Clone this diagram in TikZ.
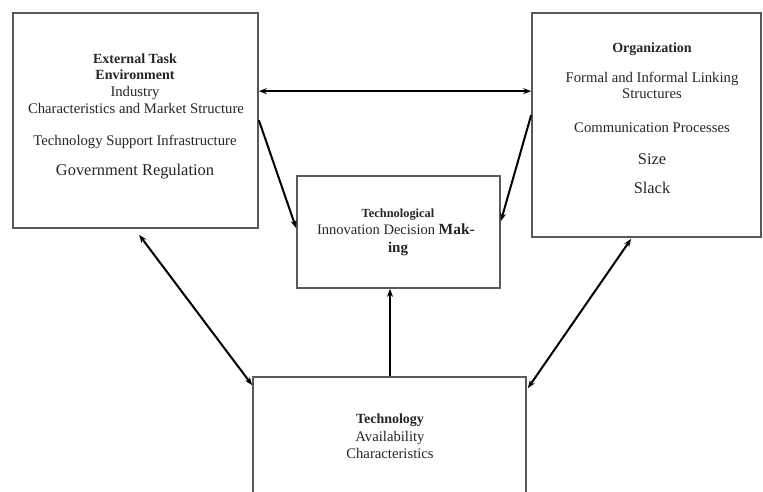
\documentclass[tikz,border=0pt]{standalone}
\usepackage{fontspec}
\setmainfont{Liberation Serif}
\usetikzlibrary{arrows.meta,calc}
\begin{document}
\begin{tikzpicture}[x=1pt,y=-1pt,
  box/.style={draw=black!65,line width=1.7pt,minimum width=#1,inner sep=0pt},
  lbl/.style={anchor=base,inner sep=0pt,text=black!85,font=\fontsize{14.7}{17}\selectfont},
  blbl/.style={lbl,font=\fontsize{14}{17}\selectfont\bfseries},
  big/.style={lbl,font=\fontsize{16.4}{19}\selectfont},
  conn/.style={line width=2pt,-{Stealth[length=8pt,width=6pt]}},
  dconn/.style={line width=2pt,{Stealth[length=8pt,width=6pt]}-{Stealth[length=8pt,width=6pt]}}]
\useasboundingbox (0,0) rectangle (763,491);
\clip (0,0) rectangle (763,491);
\fill[white] (0,0) rectangle (763,491);
% boxes
\node[box=245pt,minimum height=215pt] (L) at (135.5,120.5) {};
\node[box=229pt,minimum height=224pt] (R) at (646.5,125) {};
\node[box=203pt,minimum height=112pt] (M) at (398.5,232) {};
\node[box=273pt,minimum height=128pt] (T) at (389.5,441) {};
% left text
\node[blbl] (l1) at (135,63) {External Task};
\node[blbl] (l2) at (135,79) {Environment};
\node[lbl] (l3) at (135,96) {Industry};
\node[lbl] (l4) at (136,113) {Characteristics and Market Structure};
\node[lbl] (l5) at (135,145) {Technology Support Infrastructure};
\node[big] (l6) at (135,175) {Government Regulation};
% right text
\node[blbl] (r1) at (652,52) {Organization};
\node[lbl] (r2) at (652,82) {Formal and Informal Linking};
\node[lbl] (r3) at (652,98) {Structures};
\node[lbl] (r4) at (652,132) {Communication Processes};
\node[big] (r5) at (652,164) {Size};
\node[big] (r6) at (652,193) {Slack};
% middle text
\node[blbl,font=\fontsize{12.4}{15}\selectfont\bfseries] (m1) at (398,217) {Technological};
\node[lbl,font=\fontsize{14.5}{17}\selectfont] (m2) at (396,234) {Innovation Decision \textbf{\fontsize{15.5}{17}\selectfont Mak-}};
\node[blbl,font=\fontsize{15}{17}\selectfont\bfseries] (m3) at (398,252) {ing};
% bottom text
\node[blbl] (t1) at (390,423) {Technology};
\node[lbl] (t2) at (390,441) {Availability};
\node[lbl] (t3) at (390,458) {Characteristics};
% connectors
\draw[dconn] ($(L.north east)+(0,79)$) -- ($(R.north west)+(0,79)$);
\draw[conn] ($(L.north east)+(0,108)$) -- ($(M.north west)+(0,53)$);
\draw[conn] ($(R.north west)+(0,103)$) -- ($(M.north east)+(0,46)$);
\draw[conn] (T.north -| 390,0) -- (M.south -| 390,0);
\draw[dconn] ($(L.south west)+(127,6)$) -- ($(T.north west)+(0,9)$);
\draw[dconn] ($(R.south west)+(100,1)$) -- ($(T.north east)+(1,12)$);
\end{tikzpicture}
\end{document}
